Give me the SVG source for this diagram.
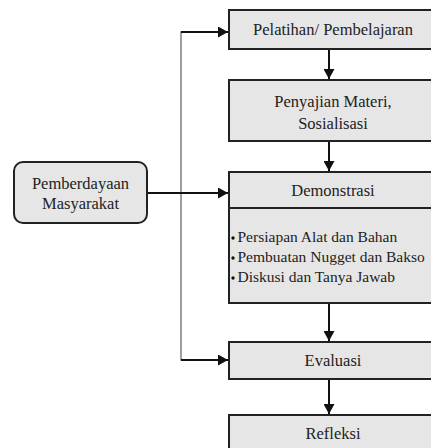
<svg xmlns="http://www.w3.org/2000/svg" width="431" height="448" viewBox="0 0 431 448">
<defs>
<style>
.box{fill:#e6e6e6;stroke:#222;stroke-width:2}
.t{font-family:"Liberation Serif","Times New Roman",serif;font-size:16.5px;fill:#222}
.s{font-size:15.5px}
.c{text-anchor:middle}
.ln{fill:none;stroke:#111;stroke-width:2}
.gl{fill:none;stroke:#777;stroke-width:1.4}
</style>
<marker id="ah" viewBox="0 0 10 10" refX="10" refY="5" markerWidth="10" markerHeight="11" markerUnits="userSpaceOnUse" orient="auto" preserveAspectRatio="none">
<path d="M0,0 L10,5 L0,10 z" fill="#111"/>
</marker>
</defs>
<rect width="431" height="448" fill="#fff"/>
<g id="connectors">
<path class="gl" d="M229,32 H181 V360 H229"/>
<path class="ln" d="M181,32 H224"/>
<path class="ln" d="M181,360 H224"/>
<path class="ln" d="M147,193 H224"/>
<path class="ln" d="M220,32 H228" marker-end="url(#ah)"/>
<path class="ln" d="M220,360 H228" marker-end="url(#ah)"/>
<path class="ln" d="M220,193 H228" marker-end="url(#ah)"/>
<path class="ln" d="M329,50 V75"/>
<path class="ln" d="M329,142 V167"/>
<path class="ln" d="M329,304 V337"/>
<path class="ln" d="M329,380 V410"/>
<path class="ln" d="M329,70 V79" marker-end="url(#ah)"/>
<path class="ln" d="M329,162 V171" marker-end="url(#ah)"/>
<path class="ln" d="M329,332 V341" marker-end="url(#ah)"/>
<path class="ln" d="M329,405 V414" marker-end="url(#ah)"/>
</g>
<g id="pemberdayaan">
<rect class="box" x="14" y="162" width="133" height="61" rx="9"/>
<text class="t c" x="80.5" y="189">Pemberdayaan</text>
<text class="t c" x="80.5" y="209">Masyarakat</text>
</g>
<g id="pelatihan">
<rect class="box" x="229" y="10" width="220" height="39"/>
<text class="t c" x="333" y="35">Pelatihan/ Pembelajaran</text>
</g>
<g id="penyajian">
<rect class="box" x="229" y="80" width="220" height="61"/>
<text class="t c" x="333" y="107">Penyajian Materi,</text>
<text class="t c" x="333" y="129">Sosialisasi</text>
</g>
<g id="demonstrasi">
<rect class="box" x="229" y="172" width="220" height="131"/>
<line x1="229" y1="208" x2="449" y2="208" stroke="#222" stroke-width="2"/>
<text class="t c" x="333" y="196">Demonstrasi</text>
<circle cx="233" cy="238" r="1.7" fill="#111"/>
<circle cx="233" cy="258" r="1.7" fill="#111"/>
<circle cx="233" cy="278" r="1.7" fill="#111"/>
<text class="t s" x="237.5" y="242">Persiapan Alat dan Bahan</text>
<text class="t s" x="237.5" y="262">Pembuatan Nugget dan Bakso</text>
<text class="t s" x="237.5" y="282">Diskusi dan Tanya Jawab</text>
</g>
<g id="evaluasi">
<rect class="box" x="229" y="342" width="220" height="37"/>
<text class="t c" x="333" y="366">Evaluasi</text>
</g>
<g id="refleksi">
<rect class="box" x="229" y="415" width="220" height="45"/>
<text class="t c" x="333" y="439">Refleksi</text>
</g>
</svg>
